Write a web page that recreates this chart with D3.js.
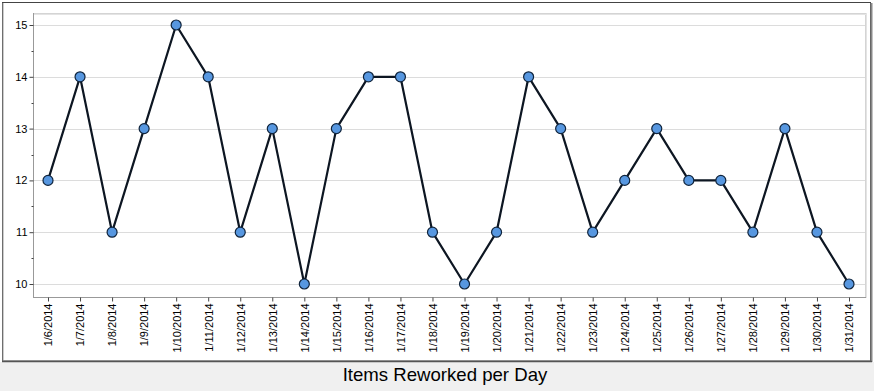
<!DOCTYPE html>
<html><head><meta charset="utf-8">
<script src="https://cdn.jsdelivr.net/npm/d3@7"></script>
<style>
html,body{margin:0;padding:0;background:#fff;}
svg{display:block;font-family:"Liberation Sans",Arial,sans-serif;}
</style></head>
<body>
<svg id="chart" width="874" height="391"></svg>
<script>
const dates = ["1/6/2014","1/7/2014","1/8/2014","1/9/2014","1/10/2014","1/11/2014","1/12/2014","1/13/2014","1/14/2014","1/15/2014","1/16/2014","1/17/2014","1/18/2014","1/19/2014","1/20/2014","1/21/2014","1/22/2014","1/23/2014","1/24/2014","1/25/2014","1/26/2014","1/27/2014","1/28/2014","1/29/2014","1/30/2014","1/31/2014"];
const values = [12,14,11,13,15,14,11,13,10,13,14,14,11,10,11,14,13,11,12,13,12,12,11,13,11,10];
const yTicks = [10,11,12,13,14,15];
const yMinorTicks = [10.5,11.5,12.5,13.5,14.5];
const title = "Items Reworked per Day";

const svg = d3.select("#chart");
const W = 874, H = 391;

// title bar
svg.append("rect").attr("x",0).attr("y",362).attr("width",W).attr("height",H-362).attr("fill","#f0f0f0");
svg.append("text").attr("x",445).attr("y",381).attr("text-anchor","middle")
  .attr("font-size",18.6).attr("fill","#000").text(title);

// outer border
svg.append("rect").attr("x",2.5).attr("y",2.5).attr("width",868).attr("height",358.5)
  .attr("fill","#fff").attr("stroke","#444").attr("stroke-width",1);
svg.append("line").attr("x1",871.5).attr("x2",871.5).attr("y1",3).attr("y2",362).attr("stroke","#888").attr("stroke-width",2);
svg.append("line").attr("x1",3).attr("x2",3).attr("y1",3).attr("y2",361).attr("stroke","#999").attr("stroke-width",1);
svg.append("line").attr("x1",2).attr("x2",872).attr("y1",361.5).attr("y2",361.5).attr("stroke","#555").attr("stroke-width",1.5);

const L = 33, R = 865, T = 13, B = 297;
const x = d3.scalePoint().domain(dates).range([48, 849]);
const y = d3.scaleLinear().domain([10,15]).range([284, 25]);

// plot frame
svg.append("rect").attr("x",L+0.5).attr("y",T+0.5).attr("width",R-L).attr("height",B-T)
  .attr("fill","#fff").attr("stroke","#d4d4d4").attr("stroke-width",1);
svg.append("line").attr("x1",L).attr("x2",R+1).attr("y1",T+1.5).attr("y2",T+1.5).attr("stroke","#e4e4e4");
svg.append("line").attr("x1",R+1.5).attr("x2",R+1.5).attr("y1",T).attr("y2",B+1).attr("stroke","#e4e4e4");

// gridlines
svg.append("g").selectAll("line").data(yTicks).join("line")
  .attr("x1",L+1).attr("x2",R).attr("y1",d=>Math.round(y(d))+0.5).attr("y2",d=>Math.round(y(d))+0.5)
  .attr("stroke","#dcdcdc").attr("stroke-width",1);

// y axis
const yAxis = svg.append("g").attr("transform",`translate(${L+0.5},0)`)
  .call(d3.axisLeft(y).tickValues(yTicks).tickSize(4).tickPadding(2).tickFormat(d3.format("d")));
yAxis.select(".domain").attr("stroke","#999").attr("d",`M0,${T}V${B}`);
yAxis.selectAll(".tick line").attr("stroke","#444");
yAxis.selectAll("text").attr("font-size",11).attr("fill","#000");
svg.append("g").attr("transform",`translate(${L+0.5},0)`).selectAll("line").data(yMinorTicks).join("line")
  .attr("x1",-2).attr("x2",0).attr("y1",d=>Math.round(y(d))+0.5).attr("y2",d=>Math.round(y(d))+0.5).attr("stroke","#444");

// x axis
const xAxis = svg.append("g").attr("transform",`translate(0,${B+0.5})`)
  .call(d3.axisBottom(x).tickSize(4).tickPadding(3));
xAxis.select(".domain").attr("d",`M${L},0H${R+1}`).attr("stroke","#999");
xAxis.selectAll(".tick line").attr("stroke","#444");
xAxis.selectAll("text").attr("font-size",11).attr("fill","#000")
  .attr("transform","rotate(-90)").attr("text-anchor","end")
  .attr("x",-6).attr("y",0).attr("dy","0.35em");

// line
const line = d3.line().x((d,i)=>x(dates[i])).y(d=>y(d));
svg.append("path").datum(values).attr("d",line).attr("fill","none")
  .attr("stroke","#0d1622").attr("stroke-width",2.2).attr("stroke-linejoin","round");

// points
svg.append("g").selectAll("circle").data(values).join("circle")
  .attr("cx",(d,i)=>x(dates[i])).attr("cy",d=>y(d)).attr("r",5)
  .attr("fill","#5797e0").attr("stroke","#10243c").attr("stroke-width",1.2);
</script>
</body></html>
